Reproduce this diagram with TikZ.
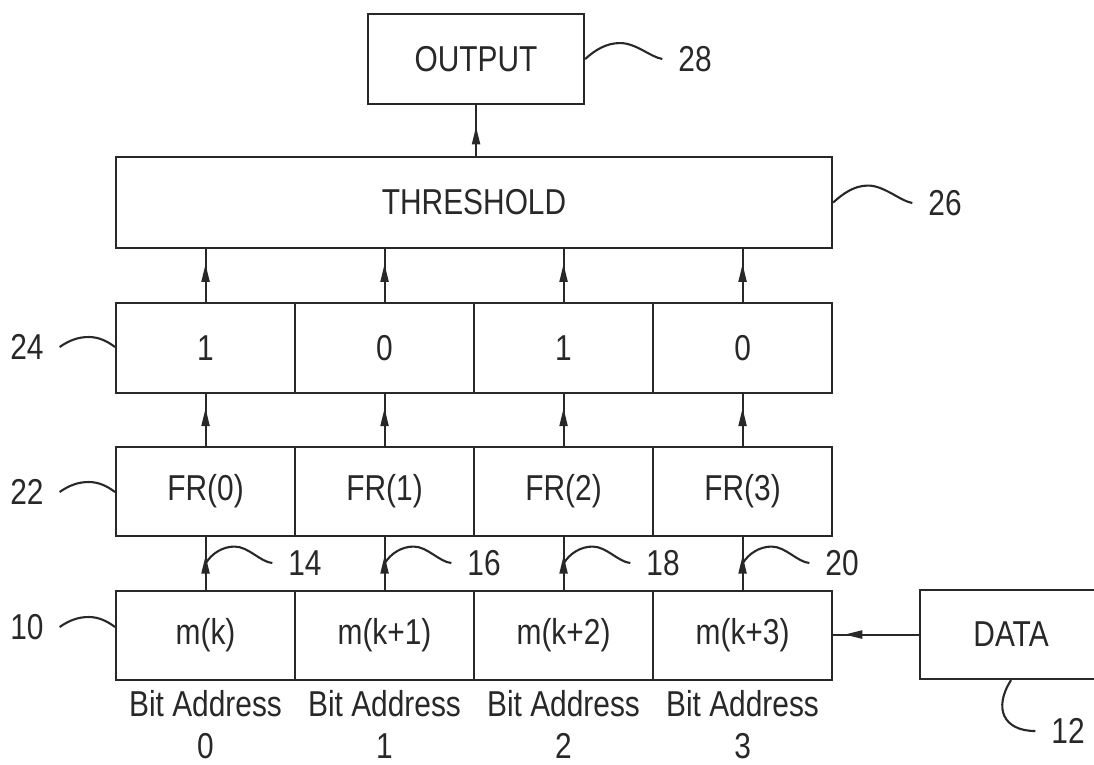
\documentclass[tikz,border=0pt]{standalone}
\usepackage{fontspec}
\setmainfont{Liberation Sans}[FakeStretch=0.83]
\usetikzlibrary{arrows.meta,decorations.markings,calc}
\definecolor{ink}{RGB}{40,40,40}
\begin{document}
\begin{tikzpicture}[x=1pt,y=-1pt, line width=2.1pt, color=ink,
  font=\fontsize{36}{40}\selectfont,
  cell/.style={draw, minimum width=179pt, minimum height=89pt, inner sep=0pt, anchor=north west},
  box/.style={draw, inner sep=0pt, anchor=north west},
  lbl/.style={inner xsep=15pt, inner ysep=0pt},
  addr/.style={inner sep=0pt},
  midarrow/.style={postaction={decorate}, decoration={markings,
     mark=at position #1 with {\arrow{Triangle[length=18pt,width=8pt]}}}},
  midarrow/.default=0.7]
\useasboundingbox (0,0) rectangle (1094,764);
\clip (0,0) rectangle (1094,764);
\fill[white] (0,0) rectangle (1094,764);

% boxes
\node[box, minimum width=216pt, minimum height=90pt] (out) at (367,13) {OUTPUT};
\node[box, minimum width=716pt, minimum height=91pt] (thr) at (115,156) {THRESHOLD};
\node[cell, minimum height=90pt] (r0) at (115,302) {1};
\node[cell, minimum height=90pt] (r1) at (294,302) {0};
\node[cell, minimum height=90pt] (r2) at (473,302) {1};
\node[cell, minimum height=90pt] (r3) at (652,302) {0};
\node[cell] (f0) at (115,446) {FR(0)};
\node[cell] (f1) at (294,446) {FR(1)};
\node[cell] (f2) at (473,446) {FR(2)};
\node[cell] (f3) at (652,446) {FR(3)};
\node[cell] (m0) at (115,590) {m(k)};
\node[cell] (m1) at (294,590) {m(k+1)};
\node[cell] (m2) at (473,590) {m(k+2)};
\node[cell] (m3) at (652,590) {m(k+3)};
\node[box, minimum width=182pt, minimum height=89pt] (data) at (919,589) {DATA};

% bit address labels
\foreach \i in {0,...,3}{
  \node[addr] (ba\i) at ($(m\i.south)+(0,23)$) {Bit Address};
  \node[addr] (bn\i) at ($(m\i.south)+(0,65)$) {\i};
}

% arrows
\foreach \i in {0,...,3}{
  \draw[midarrow=0.72] (r\i.north) -- (r\i.north |- thr.south);
  \draw[midarrow=0.73] (f\i.north) -- (r\i.south);
  \draw[midarrow=0.65] (m\i.north) -- (f\i.south);
}
\draw[midarrow=0.58] (out.south |- thr.north) -- (out.south);
\draw[midarrow=0.87] (data.west) -- (data.west -| m3.east);

% reference labels
\node[lbl] (t28) at (695,59) {28};
\node[lbl] (t26) at (945,203) {26};
\node[lbl] (t24) at (27,347) {24};
\node[lbl] (t22) at (27,492) {22};
\node[lbl] (t10) at (27,627) {10};
\node[lbl] (t14) at (305,563) {14};
\node[lbl] (t16) at (484,563) {16};
\node[lbl] (t18) at (663,563) {18};
\node[lbl] (t20) at (842,563) {20};
\node[lbl] (t12) at (1068,731) {12};

% leader lines
\draw (out.east) .. controls +(10,-9) and +(-14,0) .. ++(35,-16)
                 .. controls +(16,0) and +(-12,-2) .. (t28.west);
\draw (thr.east) .. controls +(10,-9) and +(-14,0) .. ++(35,-17)
                 .. controls +(16,0) and +(-12,-2) .. (t26.west);
\draw (t24.east) .. controls +(10,-7) and +(-10,0) .. ++(29,-10)
                 .. controls +(10,0) and +(-8,-6) .. (r0.west |- t24.east);
\draw (t22.east) .. controls +(10,-7) and +(-10,0) .. ++(29,-10)
                 .. controls +(10,0) and +(-8,-6) .. (f0.west |- t22.east);
\draw (t10.east) .. controls +(10,-7) and +(-10,0) .. ++(29,-10)
                 .. controls +(10,0) and +(-8,-6) .. (m0.west |- t10.east);
\foreach \i/\t in {0/t14,1/t16,2/t18,3/t20}{
  \coordinate (a\i) at ($(m\i.north)!0.5!(f\i.south)$);
  \draw (a\i) .. controls +(6,-10) and +(-12,0) .. ++(29,-17)
              .. controls +(14,0) and +(-12,-1) .. (\t.west);
}
\draw (data.south) .. controls +(-18,28) and +(-32,0) .. (t12.west);
\end{tikzpicture}
\end{document}
